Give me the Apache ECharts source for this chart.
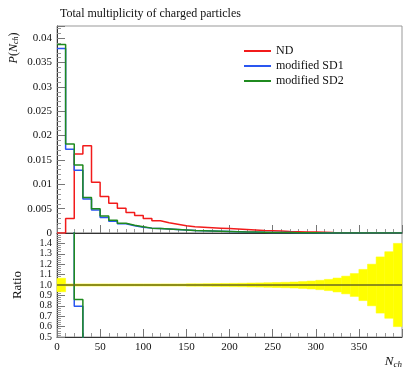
<!DOCTYPE html>
<html>
<head>
<meta charset="utf-8">
<script src="https://cdn.jsdelivr.net/npm/echarts@6/dist/echarts.min.js"></script>
<style>
  html, body { margin: 0; padding: 0; background: #fff; }
  #chart { width: 403px; height: 370px; }
</style>
</head>
<body>
<div id="chart"></div>
<script>
// bins of width 10 from 0 to 400
const binLo = [0, 10, 20, 30, 40, 50, 60, 70, 80, 90,
  100, 110, 120, 130, 140, 150, 160, 170, 180, 190,
  200, 210, 220, 230, 240, 250, 260, 270, 280, 290,
  300, 310, 320, 330, 340, 350, 360, 370, 380, 390];
const binHi = 400;

const nd = [0, 0.003, 0.0162, 0.0179, 0.0104, 0.0075, 0.0061, 0.0051, 0.0042, 0.0036,
  0.0030, 0.0025, 0.0021, 0.0018, 0.0015, 0.0013, 0.0012, 0.0011, 0.0010, 0.0009,
  0.0008, 0.0007, 0.0006, 0.0005, 0.00045, 0.0004, 0.00032, 0.00027, 0.0002, 0.00018,
  0.00015, 0.0001, 0.00007, 0.00005, 0.00003, 0.00002, 0.00001, 0.000006, 0.000003, 0.000002];

const sd1 = [0.0379, 0.0172, 0.0129, 0.0070, 0.0047, 0.0032, 0.0024, 0.0019, 0.0015, 0.0012,
  0.0010, 0.0009, 0.0008, 0.0007, 0.0006, 0.0005, 0.00045, 0.0004, 0.00035, 0.0003,
  0.00025, 0.0002, 0.00017, 0.00014, 0.00012, 0.0001, 0.00008, 0.00006, 0.00004, 0.00003,
  0.00002, 0.000015, 0.00001, 0.000007, 0.000005, 0.000003, 0.000002, 0.000001, 0.0000005, 0.0000003];

const sd2 = [0.0387, 0.01826, 0.01395, 0.0073, 0.0050, 0.0035, 0.0026, 0.0020, 0.0016, 0.0013,
  0.0010, 0.0009, 0.0008, 0.0007, 0.0006, 0.0005, 0.00045, 0.0004, 0.00035, 0.0003,
  0.00025, 0.0002, 0.00018, 0.00015, 0.00012, 0.0001, 0.00008, 0.00006, 0.00004, 0.00003,
  0.00002, 0.000015, 0.00001, 0.000007, 0.000005, 0.000003, 0.000002, 0.000001, 0.0000005, 0.0000003];

// relative uncertainty of the reference (ND) per bin, drawn as the yellow band
const ndErr = [0.065, 0.01, 0.01, 0.01, 0.01, 0.01, 0.01, 0.01, 0.01, 0.01,
  0.01, 0.01, 0.01, 0.01, 0.01, 0.012, 0.012, 0.013, 0.014, 0.015,
  0.016, 0.017, 0.019, 0.02, 0.022, 0.024, 0.026, 0.029, 0.033, 0.038,
  0.045, 0.054, 0.067, 0.085, 0.11, 0.15, 0.2, 0.27, 0.32, 0.40];

const serif = "Liberation Serif";

function steps(vals) {
  const pts = binLo.map((x, i) => [x, vals[i]]);
  pts.push([binHi, vals[vals.length - 1]]);
  return pts;
}
function ratio(vals) {
  return vals.map((v, i) => (nd[i] > 0 ? v / nd[i] : null));
}

const chart = echarts.init(document.getElementById("chart"));

const tickCommon = {
  axisTick: { inside: true, length: 8, lineStyle: { color: "#777" } },
  minorTick: { show: true, splitNumber: 5, length: 4, lineStyle: { color: "#999" } },
  splitLine: { show: false },
  axisLine: { lineStyle: { color: "#333", width: 1 } },
};

chart.setOption({
  animation: false,
  textStyle: { fontFamily: serif },
  title: {
    text: "Total multiplicity of charged particles",
    left: 55,
    top: 3,
    textStyle: { fontFamily: serif, fontSize: 12, fontWeight: "normal", color: "#111" },
  },
  legend: {
    orient: "vertical",
    left: 239,
    top: 40,
    icon: "rect",
    itemWidth: 27,
    itemHeight: 2,
    itemGap: 3,
    textStyle: { fontFamily: serif, fontSize: 12, color: "#111" },
    data: ["ND", "modified SD1", "modified SD2"],
  },
  graphic: [
    {
      type: "text",
      x: 14,
      y: 48,
      rotation: Math.PI / 2,
      style: {
        text: "{i|P}({i|N}{s|ch})",
        align: "center",
        verticalAlign: "middle",
        fontFamily: serif,
        fontSize: 12,
        fill: "#111",
        rich: {
          i: { fontFamily: serif, fontStyle: "italic", fontSize: 12 },
          s: { fontFamily: serif, fontStyle: "italic", fontSize: 8, verticalAlign: "bottom", padding: [4, 0, 0, 0] },
        },
      },
    },
    {
      type: "text",
      x: 18,
      y: 285,
      rotation: Math.PI / 2,
      style: {
        text: "Ratio",
        align: "center",
        verticalAlign: "middle",
        fontFamily: serif,
        fontSize: 13,
        fill: "#111",
      },
    },
    {
      type: "text",
      x: 402,
      y: 362,
      style: {
        text: "{i|N}{s|ch}",
        align: "right",
        verticalAlign: "middle",
        fill: "#111",
        rich: {
          i: { fontFamily: serif, fontStyle: "italic", fontSize: 13 },
          s: { fontFamily: serif, fontStyle: "italic", fontSize: 9, padding: [5, 0, 0, 0] },
        },
      },
    },
  ],
  grid: [
    { left: 57, right: 1, top: 26, height: 207, show: true, borderColor: "#999", borderWidth: 1 },
    { left: 57, right: 1, top: 233, height: 104, show: true, borderColor: "#999", borderWidth: 1 },
  ],
  xAxis: [
    {
      type: "value", gridIndex: 0, min: 0, max: 400, interval: 50,
      axisLabel: { show: false },
      ...tickCommon,
    },
    {
      type: "value", gridIndex: 1, min: 0, max: 400, interval: 50,
      axisLabel: { color: "#111", fontFamily: serif, fontSize: 11, margin: 5, showMinLabel: true, showMaxLabel: false },
      ...tickCommon,
    },
  ],
  yAxis: [
    {
      type: "value", gridIndex: 0, min: 0, max: 0.0425, interval: 0.005,
      axisLabel: { color: "#111", fontFamily: serif, fontSize: 11, margin: 5, showMinLabel: true, showMaxLabel: false },
      ...tickCommon,
    },
    {
      type: "value", gridIndex: 1, min: 0.5, max: 1.5, interval: 0.1,
      axisLabel: {
        color: "#111", fontFamily: serif, fontSize: 10, margin: 5,
        showMinLabel: true, showMaxLabel: false, hideOverlap: false,
        formatter: (v) => v.toFixed(1),
      },
      ...tickCommon,
    },
  ],
  series: [
    {
      name: "ND",
      type: "line",
      xAxisIndex: 0, yAxisIndex: 0,
      step: "end",
      showSymbol: false,
      data: steps(nd),
      lineStyle: { color: "#f21b1b", width: 1.5 },
      itemStyle: { color: "#f21b1b" },
    },
    {
      name: "modified SD1",
      type: "line",
      xAxisIndex: 0, yAxisIndex: 0,
      step: "end",
      showSymbol: false,
      data: steps(sd1),
      lineStyle: { color: "#2a56f0", width: 1.5 },
      itemStyle: { color: "#2a56f0" },
    },
    {
      name: "modified SD2",
      type: "line",
      xAxisIndex: 0, yAxisIndex: 0,
      step: "end",
      showSymbol: false,
      data: steps(sd2),
      lineStyle: { color: "#1f8a1f", width: 1.5 },
      itemStyle: { color: "#1f8a1f" },
    },
    {
      name: "band",
      type: "custom",
      xAxisIndex: 1, yAxisIndex: 1,
      z: 1,
      silent: true,
      encode: { x: [0, 1], y: 2 },
      data: binLo.map((x, i) => [x, i + 1 < binLo.length ? binLo[i + 1] : binHi, ndErr[i]]),
      renderItem: (params, api) => {
        const p0 = api.coord([api.value(0), 1 + api.value(2)]);
        const p1 = api.coord([api.value(1), 1 - api.value(2)]);
        return {
          type: "rect",
          shape: { x: p0[0], y: p0[1], width: p1[0] - p0[0], height: p1[1] - p0[1] },
          style: { fill: "#ffff00", stroke: "#ffff00", lineWidth: 0.5 },
        };
      },
    },
    {
      name: "ratio SD1",
      type: "line",
      xAxisIndex: 1, yAxisIndex: 1,
      step: "end",
      showSymbol: false,
      clip: true,
      data: steps(ratio(sd1)),
      lineStyle: { color: "#2a56f0", width: 1.5 },
      markLine: {
        silent: true,
        symbol: "none",
        label: { show: false },
        lineStyle: { color: "#6a6a22", width: 1.5, type: "solid" },
        data: [{ yAxis: 1 }],
      },
    },
    {
      name: "ratio SD2",
      type: "line",
      xAxisIndex: 1, yAxisIndex: 1,
      step: "end",
      showSymbol: false,
      clip: true,
      data: steps(ratio(sd2)),
      lineStyle: { color: "#1f8a1f", width: 1.5 },
    },
  ],
});
</script>
</body>
</html>
